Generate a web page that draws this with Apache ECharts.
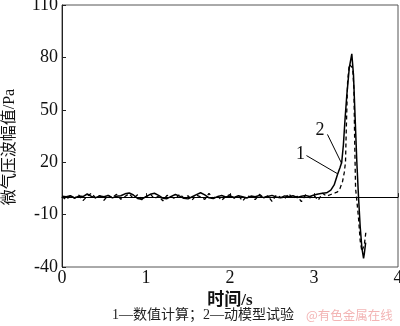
<!DOCTYPE html>
<html><head><meta charset="utf-8">
<script src="https://cdn.jsdelivr.net/npm/echarts@6/dist/echarts.min.js"></script>
<style>html,body{margin:0;padding:0;background:#fff}#c{width:400px;height:326px}</style>
</head><body><div id="c"></div>
<script>
// Series 1: numerical calculation (solid)
var calcNoise = [0.5,0.2,0.8,-0.5,0.6,0.3,1.8,0.4,-0.3,0.7,0.2,0.9,-0.4,0.5,0.8,1.9,2.4,1.2,-0.8,-1.2,0.3,1.6,2.2,1.0,-0.6,-0.9,0.4,1.5,0.6,-0.7,-1.0,0.2,1.4,2.5,1.3,-0.4,-0.8,0.3,0.9,0.1,0.6,-0.2,0.8,0.3,-0.5,0.6,0.2,0.9,-0.3,0.4,1.0,0.1,-0.4,0.7,0.3,0.8,-0.2,0.5,0.9,0.4,1.2,1.8,2.2];
var calcPulseT = [3.15,3.20,3.24,3.28,3.31,3.33,3.35,3.37,3.39,3.42,3.45,3.47,3.49,3.51,3.53,3.55,3.57,3.59,3.60,3.615];
var calcPulseV = [2.5,4,7,13,17,20,30,45,58,74,82,70,45,20,0,-17,-29,-35,-32,-26];
// Series 2: moving-model test (dashed)
var expNoise = [0.3,-1.5,0.8,-0.6,1.2,-2.0,0.5,2.2,-0.4,0.9,-1.8,1.1,-0.2,1.6,-1.2,0.4,2.0,-0.8,1.3,-1.5,0.2,1.8,-0.9,0.6,-2.1,1.0,0.3,-1.1,1.7,-0.5,0.8,-1.6,1.2,0.1,-1.3,2.1,-0.7,0.9,-1.9,0.4,1.5,-0.6,1.0,-2.2,0.7,0.2,-1.4,1.6,-0.3,0.8,-2.4,1.1,0.0,-1.0,1.9,-0.8,0.5,-2.6,1.3,-0.4,1.0,-1.8,2.2,0.6,1.5,2.4];
var expPulseT = [3.28,3.31,3.34,3.36,3.375,3.385,3.40,3.42,3.44,3.46,3.475,3.485,3.495,3.51,3.53,3.55,3.57,3.585,3.60,3.62];
var expPulseV = [3,5,9,14,20,40,66,76,77,74,62,30,5,-2,-12,-25,-31,-32,-27,-19];
var noiseStep = 0.05;
var xTicks = [0,1,2,3,4];
var yTicks = [-40,-10,20,50,80,110];
var seriesNames = ['1','2'];

function build(noise, pt, pv){
  var d = [];
  for (var i=0;i<noise.length;i++) d.push([+(i*noiseStep).toFixed(3), noise[i]]);
  for (var j=0;j<pt.length;j++) d.push([pt[j], pv[j]]);
  return d;
}
var serif = 'Liberation Serif, "Noto Sans CJK SC", serif';
var chart = echarts.init(document.getElementById('c'), null, {renderer:'canvas'});
chart.setOption({
  animation:false,
  backgroundColor:'#fff',
  grid:{left:62,right:2,top:5,bottom:59,containLabel:false,outerBoundsMode:'none',show:true,borderColor:'#555',borderWidth:1,backgroundColor:'transparent'},
  xAxis:{type:'value',min:0,max:4,interval:1,
    name:'时间/s',nameLocation:'middle',nameGap:23,
    nameTextStyle:{fontFamily:serif,fontSize:17,color:'#111',fontWeight:'bold'},
    axisLine:{lineStyle:{color:'#222',width:1}},
    axisTick:{inside:true,length:4,lineStyle:{color:'#222'}},
    axisLabel:{fontFamily:serif,fontSize:18,color:'#111',margin:2},
    splitLine:{show:false}},
  yAxis:{type:'value',min:-40,max:110,interval:30,
    name:'微气压波幅值/Pa',nameLocation:'middle',nameGap:44,
    nameTextStyle:{fontFamily:serif,fontSize:16,color:'#111',padding:[0,22,0,0]},
    axisLine:{lineStyle:{color:'#222',width:1}},
    axisTick:{inside:true,length:4,lineStyle:{color:'#222'}},
    axisLabel:{fontFamily:serif,fontSize:18,color:'#111',margin:4},
    splitLine:{show:false}},
  series:[
    {name:seriesNames[0],type:'line',showSymbol:false,symbol:'none',
     data:build(calcNoise,calcPulseT,calcPulseV),
     lineStyle:{color:'#000',width:1.5},
     markLine:{silent:true,symbol:'none',label:{show:false},
       lineStyle:{color:'#000',width:1,type:'solid'},
       data:[{yAxis:0},
         [{coord:[2.91,23.8]},{coord:[3.28,13.4]}],
         [{coord:[3.16,35.9]},{coord:[3.33,19.2]}]]},
     markPoint:{silent:true,symbol:'circle',symbolSize:0,
       label:{show:true,fontFamily:serif,fontSize:18,color:'#111'},
       data:[{coord:[2.84,24.5],value:'1'},{coord:[3.07,38.5],value:'2'}]}
    },
    {name:seriesNames[1],type:'line',showSymbol:false,symbol:'none',
     data:build(expNoise,expPulseT,expPulseV),
     lineStyle:{color:'#000',width:1.3,type:[4,3]}}
  ],
  graphic:[
    {type:'text',left:112,top:308,style:{text:'1—数值计算；2—动模型试验',font:'14px '+serif,fill:'#222'}},
    {type:'text',left:306,top:309,style:{text:'@有色金属在线',font:'12.5px "Noto Sans CJK SC", sans-serif',fill:'#f3b5b5'}}
  ]
});
</script></body></html>
